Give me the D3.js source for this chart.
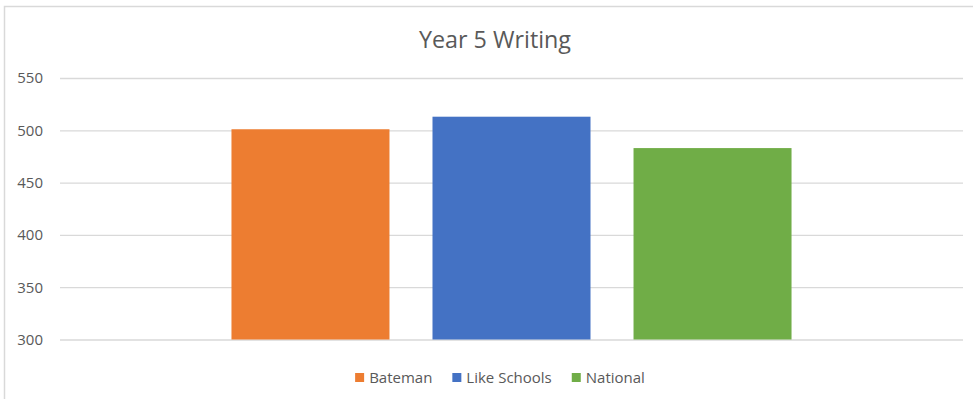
<!DOCTYPE html>
<html>
<head>
<meta charset="utf-8">
<script src="https://cdn.jsdelivr.net/npm/d3@7"></script>
<style>
	body { margin: 0; background: #fff; }
	svg { display: block; font-family: "Open Sans", sans-serif; }
	.axis text { fill: #595959; font-size: 15px; }
	.grid line { stroke: #d9d9d9; stroke-width: 1.3; }
</style>
</head>
<body>
<svg id="chart"></svg>
<script>
var title      = "Year 5 Writing";
var series     = [ "Bateman", "Like Schools", "National" ];
var values     = [ 501, 513, 483 ];
var colors     = [ "#ED7D31", "#4472C4", "#70AD47" ];
var tick_values = [ 300, 350, 400, 450, 500, 550 ];

var W = 973, H = 399;
var margin = { top : 78, right : 10, bottom : 59.5, left : 60 };
var width  = W - margin.left - margin.right;
var height = H - margin.top  - margin.bottom;

var root = d3.select( "#chart" )
	.attr( "width", W )
	.attr( "height", H );

// chart frame
root.append( "rect" )
	.attr( "x", 4.5 ).attr( "y", 6.5 )
	.attr( "width", W ).attr( "height", H )
	.attr( "fill", "none" )
	.attr( "stroke", "#d9d9d9" )
	.attr( "stroke-width", 1.5 );

root.append( "text" )
	.attr( "x", 495 )
	.attr( "y", 47.5 )
	.attr( "text-anchor", "middle" )
	.attr( "fill", "#595959" )
	.style( "font-size", "23.3px" )
	.text( title );

var svg = root.append( "g" )
	.attr( "transform", "translate(" + margin.left + "," + margin.top + ")" );

var y = d3.scaleLinear().domain([ 300, 550 ]).range([ height, 0 ]);
var x = d3.scaleBand().domain( series ).range([ 0, width ])
	.paddingInner( 0.214 ).paddingOuter( 0.853 );

// gridlines
svg.append( "g" )
	.attr( "class", "grid" )
	.call( d3.axisLeft( y ).tickValues( tick_values ).tickSize( -width ).tickFormat( "" ) )
	.call( g => g.select( ".domain" ).remove() );

// y labels
svg.append( "g" )
	.attr( "class", "axis" )
	.call( d3.axisLeft( y ).tickValues( tick_values ).tickSize( 0 ).tickPadding( 17 ) )
	.call( g => g.select( ".domain" ).remove() )
	.call( g => g.selectAll( "text" ).style( "font-family", "'Open Sans', sans-serif" ) );

// bars
svg.selectAll( "rect.bar" )
	.data( series )
	.enter()
	.append( "rect" )
		.attr( "class", "bar" )
		.attr( "x", d => x( d ) )
		.attr( "width", x.bandwidth() )
		.attr( "y", (d, i) => y( values[i] ) )
		.attr( "height", (d, i) => height - y( values[i] ) )
		.attr( "fill", (d, i) => colors[i] );

// legend
var legend = root.append( "g" );
var cursor = 0;
series.forEach(function( s, i ){
	var item = legend.append( "g" ).attr( "transform", "translate(" + cursor + ",0)" );
	item.append( "rect" )
		.attr( "x", 0 ).attr( "y", -4.5 )
		.attr( "width", 9 ).attr( "height", 9 )
		.attr( "fill", colors[i] );
	var t = item.append( "text" )
		.attr( "x", 14 )
		.attr( "y", 5.5 )
		.attr( "fill", "#595959" )
		.style( "font-size", "15px" )
		.text( s );
	cursor += 14 + t.node().getComputedTextLength() + 20;
});
var legend_width = cursor - 20;
legend.attr( "transform", "translate(" + ( 500 - legend_width / 2 ) + ",377.5)" );
</script>
</body>
</html>
